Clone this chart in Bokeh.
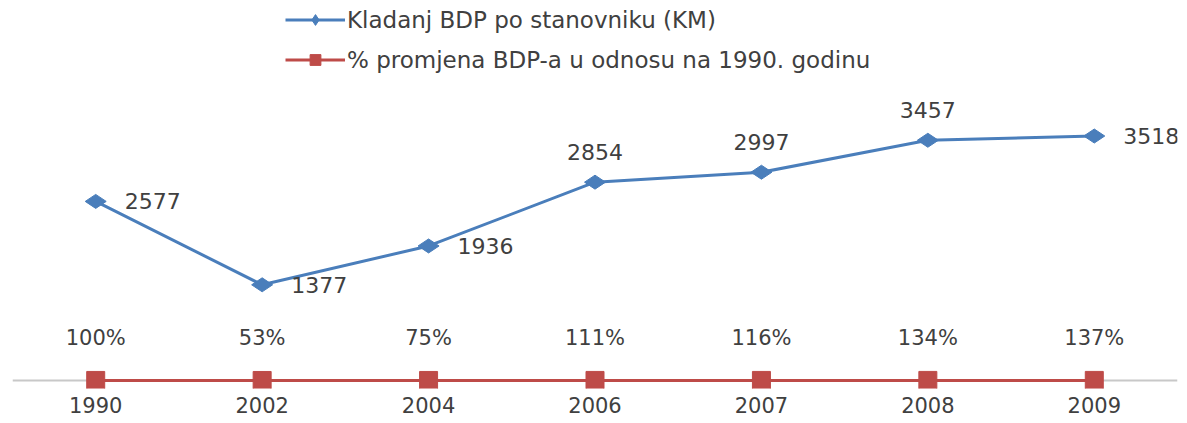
from bokeh.plotting import figure
from bokeh.models import ColumnDataSource, Range1d, Span, Legend, LegendItem
from bokeh.embed import file_html
from bokeh.resources import INLINE
from bokeh.core.properties import value
import math

years = ["1990", "2002", "2004", "2006", "2007", "2008", "2009"]
gdp = [2577, 1377, 1936, 2854, 2997, 3457, 3518]
pct = [1.00, 0.53, 0.75, 1.11, 1.16, 1.34, 1.37]
pct_labels = ["100%", "53%", "75%", "111%", "116%", "134%", "137%"]
gdp_label_side = ["right", "right", "right", "above", "above", "above", "right"]
series_names = ["Kladanj BDP po stanovniku (KM)", "% promjena BDP-a u odnosu na 1990. godinu"]

BLUE = "#4A7EBB"
RED = "#BE4B48"
TXT = "#404040"
FONT = "DejaVu Sans"

p = figure(width=1179, height=421, x_range=years, output_backend="svg",
           toolbar_location=None, min_border_left=12, min_border_right=2,
           min_border_top=0, min_border_bottom=33)
p.x_range.range_padding = 0
p.y_range = Range1d(-115, 5468)

p.outline_line_color = None
p.background_fill_color = "white"
p.border_fill_color = "white"
p.grid.visible = False
p.yaxis.visible = False

ax = p.xaxis[0]
ax.axis_line_color = None
ax.major_tick_line_color = None
ax.minor_tick_line_color = None
ax.major_tick_out = 0
ax.major_tick_in = 0
ax.major_label_standoff = 8
ax.major_label_text_font = FONT
ax.major_label_text_font_size = "21px"
ax.major_label_text_color = TXT

p.add_layout(Span(location=0, dimension="width", line_color="#C8C8C8",
                  line_width=2, level="underlay"))

src = ColumnDataSource(dict(x=years, gdp=gdp, pct=pct, pl=pct_labels))

bl = p.line("x", "gdp", source=src, line_color=BLUE, line_width=3)
bm = p.scatter("x", "gdp", source=src, marker="diamond", size=21, angle=math.pi / 2,
               fill_color=BLUE, line_color=BLUE)
rl = p.line("x", "pct", source=src, line_color=RED, line_width=3)
rm = p.scatter("x", "pct", source=src, marker="square", size=18,
               fill_color=RED, line_color=RED)

right_idx = [i for i, s in enumerate(gdp_label_side) if s == "right"]
above_idx = [i for i, s in enumerate(gdp_label_side) if s == "above"]
src_r = ColumnDataSource(dict(x=[years[i] for i in right_idx], y=[gdp[i] for i in right_idx],
                              t=[str(gdp[i]) for i in right_idx]))
src_a = ColumnDataSource(dict(x=[years[i] for i in above_idx], y=[gdp[i] for i in above_idx],
                              t=[str(gdp[i]) for i in above_idx]))

p.text("x", "y", text="t", source=src_r, x_offset=29, y_offset=0,
       text_align="left", text_baseline="middle", text_font=value(FONT),
       text_font_size="22px", text_color=TXT)
p.text("x", "y", text="t", source=src_a, x_offset=0, y_offset=-30,
       text_align="center", text_baseline="middle", text_font=value(FONT),
       text_font_size="22px", text_color=TXT)
p.text("x", "pct", text="pl", source=src, x_offset=0, y_offset=-42,
       text_align="center", text_baseline="middle", text_font=value(FONT),
       text_font_size="21px", text_color=TXT)

legend = Legend(items=[LegendItem(label=series_names[0], renderers=[bl, bm]),
                       LegendItem(label=series_names[1], renderers=[rl, rm])],
                location=(273, 315), orientation="vertical",
                glyph_width=60, glyph_height=27, label_height=27, spacing=13,
                label_standoff=2, padding=0, margin=0,
                border_line_color=None, background_fill_alpha=0,
                label_text_font=FONT, label_text_font_size="23px",
                label_text_color=TXT, label_text_baseline="middle")
p.add_layout(legend)

open("out.html", "w").write(file_html(p, INLINE))
